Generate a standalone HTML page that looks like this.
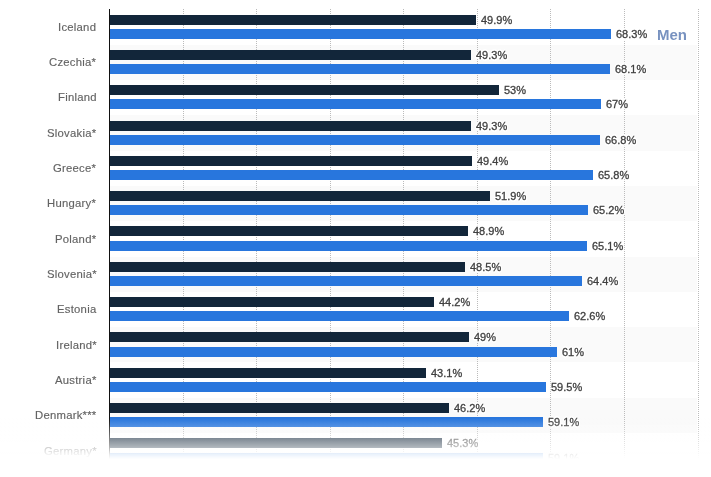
<!DOCTYPE html>
<html><head><meta charset="utf-8"><style>
html,body{margin:0;padding:0;background:#fff;}
body{width:711px;height:477px;position:relative;overflow:hidden;font-family:"Liberation Sans",sans-serif;}
.band{position:absolute;left:110px;width:587px;height:35.315px;background:#fafafa;}
.grid{position:absolute;top:9px;height:468px;width:1px;background:repeating-linear-gradient(to bottom,#bbb 0,#bbb 1px,transparent 1px,transparent 2px);}
.axis{position:absolute;left:109px;top:9px;width:1px;height:468px;background:#111;}
.bar{position:absolute;left:110px;height:10px;}
.dark{background:#12263a;}
.blue{background:#2876dd;}
.val{position:absolute;will-change:transform;font-size:11px;line-height:12px;margin-top:-6px;color:#404040;white-space:nowrap;-webkit-text-stroke:0.3px #404040;text-shadow:1px 0 #fff,-1px 0 #fff,0 1px #fff,0 -1px #fff,1px 1px #fff,-1px -1px #fff,1px -1px #fff,-1px 1px #fff,0 2px #fff,0 -2px #fff;}
.lbl{position:absolute;will-change:transform;right:614.5px;font-size:11.3px;letter-spacing:0.25px;line-height:12px;color:#636363;white-space:nowrap;-webkit-text-stroke:0.15px #636363;}
.men{position:absolute;will-change:transform;left:656.8px;top:27px;font-size:15px;line-height:16px;font-weight:bold;color:#7892c0;letter-spacing:0px;}
.fade{position:absolute;left:0;top:0;width:711px;height:477px;background:linear-gradient(to bottom,rgba(255,255,255,0) 418px,rgba(255,255,255,0.45) 438px,rgba(255,255,255,0.66) 447px,rgba(255,255,255,0.9) 454px,rgba(255,255,255,1) 459px);}
</style></head><body>
<div class="band" style="top:44.61px"></div>
<div class="band" style="top:115.24px"></div>
<div class="band" style="top:185.88px"></div>
<div class="band" style="top:256.50px"></div>
<div class="band" style="top:327.13px"></div>
<div class="band" style="top:397.76px"></div>
<div class="grid" style="left:183px"></div>
<div class="grid" style="left:256px"></div>
<div class="grid" style="left:330px"></div>
<div class="grid" style="left:403px"></div>
<div class="grid" style="left:477px"></div>
<div class="grid" style="left:550px"></div>
<div class="grid" style="left:624px"></div>
<div class="grid" style="left:698px"></div>
<div class="axis"></div>
<div class="bar dark" style="top:15px;width:365.76px"></div>
<div class="bar blue" style="top:29px;width:501.00px"></div>
<div class="val" style="top:20px;left:480.76px">49.9%</div>
<div class="val" style="top:34px;left:616.00px">68.3%</div>
<div class="lbl" style="top:21px">Iceland</div>
<div class="bar dark" style="top:50px;width:361.35px"></div>
<div class="bar blue" style="top:64px;width:499.53px"></div>
<div class="val" style="top:55px;left:476.35px">49.3%</div>
<div class="val" style="top:69px;left:614.53px">68.1%</div>
<div class="lbl" style="top:56px">Czechia*</div>
<div class="bar dark" style="top:85px;width:388.55px"></div>
<div class="bar blue" style="top:99px;width:491.45px"></div>
<div class="val" style="top:90px;left:503.55px">53%</div>
<div class="val" style="top:104px;left:606.45px">67%</div>
<div class="lbl" style="top:91px">Finland</div>
<div class="bar dark" style="top:121px;width:361.35px"></div>
<div class="bar blue" style="top:135px;width:489.98px"></div>
<div class="val" style="top:126px;left:476.35px">49.3%</div>
<div class="val" style="top:140px;left:604.98px">66.8%</div>
<div class="lbl" style="top:127px">Slovakia*</div>
<div class="bar dark" style="top:156px;width:362.09px"></div>
<div class="bar blue" style="top:170px;width:482.63px"></div>
<div class="val" style="top:161px;left:477.09px">49.4%</div>
<div class="val" style="top:175px;left:597.63px">65.8%</div>
<div class="lbl" style="top:162px">Greece*</div>
<div class="bar dark" style="top:191px;width:380.46px"></div>
<div class="bar blue" style="top:205px;width:478.22px"></div>
<div class="val" style="top:196px;left:495.46px">51.9%</div>
<div class="val" style="top:210px;left:593.22px">65.2%</div>
<div class="lbl" style="top:197px">Hungary*</div>
<div class="bar dark" style="top:226px;width:358.41px"></div>
<div class="bar blue" style="top:241px;width:477.48px"></div>
<div class="val" style="top:231px;left:473.41px">48.9%</div>
<div class="val" style="top:246px;left:592.48px">65.1%</div>
<div class="lbl" style="top:233px">Poland*</div>
<div class="bar dark" style="top:262px;width:355.47px"></div>
<div class="bar blue" style="top:276px;width:472.34px"></div>
<div class="val" style="top:267px;left:470.47px">48.5%</div>
<div class="val" style="top:281px;left:587.34px">64.4%</div>
<div class="lbl" style="top:268px">Slovenia*</div>
<div class="bar dark" style="top:297px;width:323.87px"></div>
<div class="bar blue" style="top:311px;width:459.11px"></div>
<div class="val" style="top:302px;left:438.87px">44.2%</div>
<div class="val" style="top:316px;left:574.11px">62.6%</div>
<div class="lbl" style="top:303px">Estonia</div>
<div class="bar dark" style="top:332px;width:359.15px"></div>
<div class="bar blue" style="top:347px;width:447.35px"></div>
<div class="val" style="top:337px;left:474.15px">49%</div>
<div class="val" style="top:352px;left:562.35px">61%</div>
<div class="lbl" style="top:339px">Ireland*</div>
<div class="bar dark" style="top:368px;width:315.78px"></div>
<div class="bar blue" style="top:382px;width:436.33px"></div>
<div class="val" style="top:373px;left:430.78px">43.1%</div>
<div class="val" style="top:387px;left:551.33px">59.5%</div>
<div class="lbl" style="top:374px">Austria*</div>
<div class="bar dark" style="top:403px;width:338.57px"></div>
<div class="bar blue" style="top:417px;width:433.38px"></div>
<div class="val" style="top:408px;left:453.57px">46.2%</div>
<div class="val" style="top:422px;left:548.38px">59.1%</div>
<div class="lbl" style="top:409px">Denmark***</div>
<div class="bar dark" style="top:438px;width:331.95px"></div>
<div class="bar blue" style="top:453px;width:433.38px"></div>
<div class="val" style="top:443px;left:446.95px">45.3%</div>
<div class="val" style="top:458px;left:548.38px">59.1%</div>
<div class="lbl" style="top:445px">Germany*</div>
<div class="men">Men</div>
<div class="fade"></div>
</body></html>
